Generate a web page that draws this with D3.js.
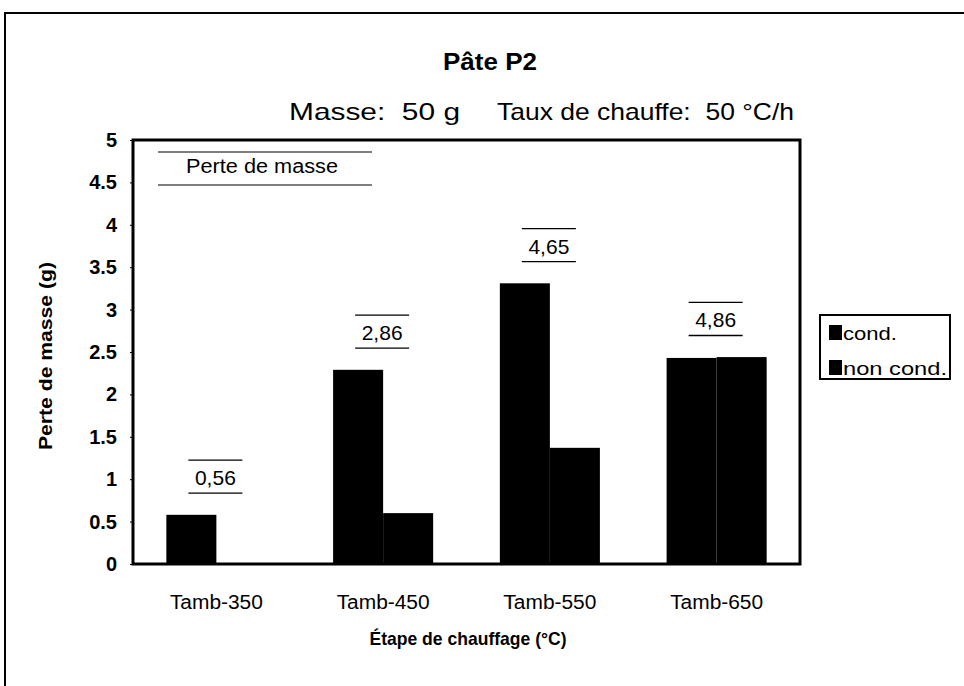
<!DOCTYPE html>
<html>
<head>
<meta charset="utf-8">
<script src="https://cdn.jsdelivr.net/npm/d3@7"></script>
<style>
  body { margin: 0; background: #fff; }
  svg { display: block; }
  text { font-family: "Liberation Sans", Arial, sans-serif; fill: #000; white-space: pre; }
</style>
</head>
<body>
<svg id="chart" width="964" height="686"></svg>
<script>
// ---- data ----
const categories = ["Tamb-350", "Tamb-450", "Tamb-550", "Tamb-650"];
const seriesNames = ["cond.", "non cond."];
const condValues = [0.58, 2.29, 3.31, 2.43];
const nonCondValues = [0.0, 0.60, 1.37, 2.44];
const totalLabels = ["0,56", "2,86", "4,65", "4,86"];
const yTicks = [0, 0.5, 1, 1.5, 2, 2.5, 3, 3.5, 4, 4.5, 5];
const seriesColors = ["#000000", "#000000"];

const svg = d3.select("#chart");
const W = 964, H = 686;
const margin = { left: 133, top: 140, right: 164, bottom: 122 };
const plotW = W - margin.left - margin.right;   // 667
const plotH = H - margin.top - margin.bottom;   // 424
const FONT = "'Liberation Sans', Arial, sans-serif";

// outer frame
svg.append("rect")
  .attr("x", 5).attr("y", 13)
  .attr("width", 980).attr("height", 700)
  .attr("fill", "none").attr("stroke", "#000").attr("stroke-width", 2);

const g = svg.append("g").attr("transform", `translate(${margin.left},${margin.top})`);

const x0 = d3.scaleBand().domain(categories).range([0, plotW])
  .paddingInner(0.4).paddingOuter(0.2);
const x1 = d3.scaleBand().domain(seriesNames).range([0, x0.bandwidth()]);
const y = d3.scaleLinear().domain([0, 5]).range([plotH, 0]);

const rows = categories.map((c, i) => ({
  cat: c,
  vals: [
    { s: seriesNames[0], v: condValues[i] },
    { s: seriesNames[1], v: nonCondValues[i] }
  ],
  label: totalLabels[i]
}));

// bars
const cg = g.selectAll("g.cat").data(rows).join("g")
  .attr("class", "cat")
  .attr("transform", d => `translate(${x0(d.cat)},0)`);
cg.selectAll("rect").data(d => d.vals).join("rect")
  .attr("x", d => x1(d.s))
  .attr("y", d => y(d.v))
  .attr("width", x1.bandwidth())
  .attr("height", d => y(0) - y(d.v))
  .attr("fill", (d, i) => seriesColors[i]);

// total labels with lines above/below
const lblOffset = 0.45;
rows.forEach(d => {
  const maxV = d3.max(d.vals, v => v.v);
  const cx = x0(d.cat) + x0.bandwidth() / 2 - 1;
  const cy = y(maxV + lblOffset);
  g.append("line").attr("x1", cx - 27).attr("x2", cx + 27)
    .attr("y1", cy - 16.5).attr("y2", cy - 16.5)
    .attr("stroke", "#000").attr("stroke-width", 1.2);
  g.append("line").attr("x1", cx - 27).attr("x2", cx + 27)
    .attr("y1", cy + 16.5).attr("y2", cy + 16.5)
    .attr("stroke", "#000").attr("stroke-width", 1.4);
  g.append("text").attr("x", cx).attr("y", cy + 1)
    .attr("text-anchor", "middle").attr("dominant-baseline", "central")
    .style("font-size", "21px").text(d.label);
});

// "Perte de masse" label box inside plot
{
  const cx = 262 - margin.left, cy = 166 - margin.top;
  g.append("line").attr("x1", 158 - margin.left).attr("x2", 372 - margin.left)
    .attr("y1", cy - 14).attr("y2", cy - 14).attr("stroke", "#000").attr("stroke-width", 1.2);
  g.append("line").attr("x1", 158 - margin.left).attr("x2", 372 - margin.left)
    .attr("y1", cy + 19).attr("y2", cy + 19).attr("stroke", "#000").attr("stroke-width", 1.2);
  g.append("text").attr("x", cx).attr("y", cy)
    .attr("text-anchor", "middle").attr("dominant-baseline", "central")
    .attr("textLength", 152).attr("lengthAdjust", "spacingAndGlyphs")
    .style("font-size", "20px").text("Perte de masse");
}

// axes
const yAxis = g.append("g").call(d3.axisLeft(y).tickValues(yTicks)
  .tickFormat(d3.format("")).tickSize(3).tickPadding(13));
yAxis.select(".domain").remove();
yAxis.selectAll("line").attr("stroke", "#000");
yAxis.selectAll("text").style("font-size", "20px").style("font-weight", "bold")
  .style("font-family", FONT);

const xAxis = g.append("g").attr("transform", `translate(0,${plotH})`)
  .call(d3.axisBottom(x0).tickSize(0).tickPadding(31));
xAxis.select(".domain").remove();
xAxis.selectAll("text").style("font-size", "20px")
  .attr("textLength", 93).attr("lengthAdjust", "spacingAndGlyphs")
  .style("font-family", FONT);

// plot frame
g.append("rect").attr("x", 0).attr("y", 0).attr("width", plotW).attr("height", plotH)
  .attr("fill", "none").attr("stroke", "#000").attr("stroke-width", 3);

// titles
svg.append("text").attr("x", 490).attr("y", 62)
  .attr("text-anchor", "middle").attr("dominant-baseline", "central")
  .attr("textLength", 94).attr("lengthAdjust", "spacingAndGlyphs")
  .style("font-size", "23px").style("font-weight", "bold").text("Pâte P2");
svg.append("text").attr("x", 289).attr("y", 111)
  .attr("dominant-baseline", "central")
  .attr("textLength", 171).attr("lengthAdjust", "spacingAndGlyphs")
  .style("font-size", "24px").text("Masse:  50 g");
svg.append("text").attr("x", 497).attr("y", 111)
  .attr("dominant-baseline", "central")
  .attr("textLength", 297).attr("lengthAdjust", "spacingAndGlyphs")
  .style("font-size", "24px").text("Taux de chauffe:  50 °C/h");

// axis titles
svg.append("text")
  .attr("transform", `translate(45,356) rotate(-90)`)
  .attr("text-anchor", "middle").attr("dominant-baseline", "central")
  .attr("textLength", 188).attr("lengthAdjust", "spacingAndGlyphs")
  .style("font-size", "19px").style("font-weight", "bold").text("Perte de masse (g)");
svg.append("text").attr("x", 468).attr("y", 638)
  .attr("text-anchor", "middle").attr("dominant-baseline", "central")
  .attr("textLength", 197).attr("lengthAdjust", "spacingAndGlyphs")
  .style("font-size", "19px").style("font-weight", "bold").text("Étape de chauffage (°C)");

// legend
const lg = svg.append("g").attr("transform", "translate(820,315)");
lg.append("rect").attr("x", 0).attr("y", 0).attr("width", 130).attr("height", 64)
  .attr("fill", "#fff").attr("stroke", "#000").attr("stroke-width", 2);
const legendWidths = [54, 104];
seriesNames.forEach((s, i) => {
  const yy = 18 + i * 35;
  lg.append("rect").attr("x", 9).attr("y", yy - 8).attr("width", 13).attr("height", 15)
    .attr("fill", seriesColors[i]);
  lg.append("text").attr("x", 23).attr("y", yy)
    .attr("dominant-baseline", "central")
    .attr("textLength", legendWidths[i]).attr("lengthAdjust", "spacingAndGlyphs")
    .style("font-size", "19px").text(s);
});
</script>
</body>
</html>
